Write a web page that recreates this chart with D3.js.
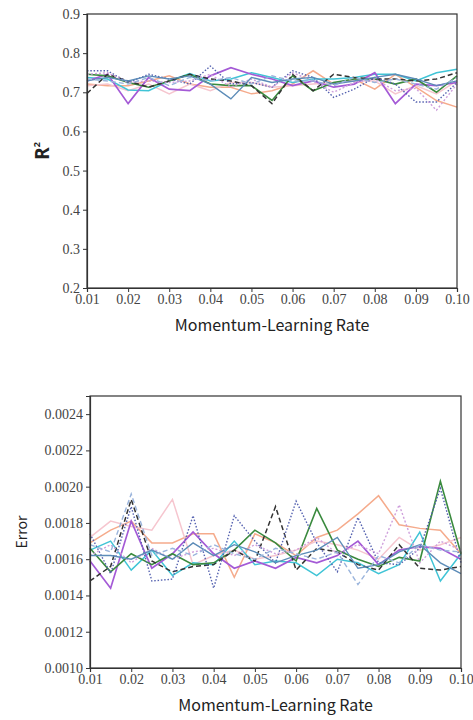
<!doctype html>
<html>
<head>
<meta charset="UTF-8">
<title>Momentum-Learning Rate</title>
<style>
	body { margin: 0; background: #fff; }
	.axis-title { font-family: "Noto Sans CJK SC", "Noto Sans", sans-serif; font-size: 16px; fill: #222; }
</style>
</head>
<body>
<script src="https://cdnjs.cloudflare.com/ajax/libs/d3/7.8.5/d3.min.js"></script>
<script>
	// x positions (momentum-learning rate)
	var rates = [0.01, 0.015, 0.02, 0.025, 0.03, 0.035, 0.04, 0.045, 0.05, 0.055,
		0.06, 0.065, 0.07, 0.075, 0.08, 0.085, 0.09, 0.095, 0.10];
	var xTicks = [0.01, 0.02, 0.03, 0.04, 0.05, 0.06, 0.07, 0.08, 0.09, 0.10];
	var r2Ticks = [0.2, 0.3, 0.4, 0.5, 0.6, 0.7, 0.8, 0.9];
	var errTicks = [0.0010, 0.0012, 0.0014, 0.0016, 0.0018, 0.0020, 0.0022, 0.0024];

	// R^2 series
	var r2Salmon = [0.721,0.717,0.717,0.729,0.742,0.721,0.713,0.713,0.696,0.704,0.721,0.755,0.721,0.734,0.708,0.746,0.713,0.679,0.662];
	var r2Pink = [0.717,0.721,0.704,0.721,0.696,0.721,0.704,0.725,0.725,0.713,0.717,0.721,0.725,0.729,0.729,0.696,0.717,0.696,0.729];
	var r2Cyan = [0.738,0.734,0.706,0.704,0.729,0.748,0.729,0.734,0.750,0.738,0.725,0.734,0.734,0.738,0.746,0.746,0.729,0.750,0.759];
	var r2Purple = [0.729,0.746,0.671,0.738,0.708,0.704,0.742,0.763,0.746,0.734,0.717,0.729,0.713,0.721,0.750,0.671,0.721,0.717,0.725];
	var r2Green = [0.746,0.742,0.725,0.713,0.729,0.746,0.721,0.717,0.717,0.679,0.742,0.704,0.725,0.734,0.734,0.721,0.734,0.700,0.742];
	var r2Black = [0.697,0.746,0.729,0.713,0.729,0.746,0.734,0.729,0.717,0.671,0.746,0.704,0.746,0.738,0.734,0.734,0.729,0.734,0.750];
	var r2BlueDot = [0.755,0.755,0.725,0.746,0.734,0.721,0.767,0.721,0.725,0.713,0.755,0.738,0.687,0.708,0.738,0.721,0.675,0.675,0.725];
	var r2LavDot = [0.746,0.750,0.725,0.729,0.725,0.729,0.746,0.713,0.734,0.713,0.750,0.729,0.700,0.725,0.734,0.704,0.710,0.654,0.721];
	var r2Steel = [0.729,0.738,0.729,0.742,0.734,0.742,0.721,0.683,0.738,0.725,0.734,0.738,0.721,0.729,0.738,0.746,0.734,0.717,0.729];
	var r2LightDash = [0.734,0.729,0.721,0.738,0.717,0.738,0.729,0.738,0.721,0.742,0.729,0.729,0.717,0.738,0.725,0.734,0.721,0.708,0.738];

	// Error series
	var errSalmon = [0.00169,0.00176,0.00181,0.00169,0.00169,0.00174,0.00174,0.00150,0.00174,0.00169,0.00162,0.00172,0.00176,0.00185,0.00195,0.00179,0.00177,0.00176,0.00163];
	var errPink = [0.00172,0.00181,0.00178,0.00176,0.00193,0.00157,0.00162,0.00165,0.00160,0.00162,0.00165,0.00170,0.00168,0.00165,0.00160,0.00172,0.00165,0.00168,0.00172];
	var errCyan = [0.00165,0.00170,0.00154,0.00165,0.00151,0.00158,0.00157,0.00170,0.00157,0.00159,0.00158,0.00151,0.00160,0.00158,0.00152,0.00157,0.00175,0.00148,0.00163];
	var errPurple = [0.00159,0.00144,0.00181,0.00155,0.00163,0.00175,0.00163,0.00155,0.00159,0.00155,0.00161,0.00158,0.00162,0.00170,0.00157,0.00165,0.00167,0.00166,0.00160];
	var errGreen = [0.00166,0.00153,0.00163,0.00157,0.00163,0.00157,0.00158,0.00165,0.00176,0.00169,0.00159,0.00188,0.00165,0.00160,0.00156,0.00161,0.00159,0.00203,0.00163];
	var errBlack = [0.00148,0.00156,0.00193,0.00159,0.00153,0.00156,0.00157,0.00165,0.00159,0.00189,0.00154,0.00166,0.00164,0.00157,0.00154,0.00168,0.00155,0.00154,0.00156];
	var errBlueDot = [0.00174,0.00152,0.00189,0.00148,0.00149,0.00184,0.00144,0.00184,0.00170,0.00158,0.00192,0.00169,0.00153,0.00183,0.00158,0.00157,0.00166,0.00199,0.00158];
	var errLavDot = [0.00162,0.00168,0.00158,0.00166,0.00160,0.00164,0.00166,0.00162,0.00168,0.00163,0.00165,0.00172,0.00163,0.00168,0.00163,0.00190,0.00158,0.00170,0.00165];
	var errSteel = [0.00162,0.00162,0.00160,0.00165,0.00160,0.00169,0.00162,0.00168,0.00164,0.00158,0.00162,0.00165,0.00172,0.00155,0.00157,0.00164,0.00168,0.00158,0.00152];
	var errLightDash = [0.00168,0.00164,0.00196,0.00162,0.00166,0.00162,0.00168,0.00163,0.00160,0.00166,0.00163,0.00160,0.00164,0.00146,0.00162,0.00158,0.00168,0.00165,0.00164];

	// line styles, same order for both charts
	var styles = [
		{ color: '#f5ab8c', dash: null, w: 1.5 },
		{ color: '#f6c6cf', dash: null, w: 1.5 },
		{ color: '#40c4d6', dash: null, w: 1.5 },
		{ color: '#a45ad6', dash: null, w: 1.7 },
		{ color: '#3a8a3e', dash: null, w: 1.6 },
		{ color: '#333333', dash: '5,3', w: 1.5 },
		{ color: '#5562b0', dash: '1.5,1.8', w: 1.4 },
		{ color: '#cfa0dc', dash: '2,2', w: 1.4 },
		{ color: '#5c8cb8', dash: null, w: 1.4 },
		{ color: '#9ab4dc', dash: '5,3', w: 1.4 }
	];

	var r2Series = [r2Salmon, r2Pink, r2Cyan, r2Purple, r2Green, r2Black, r2BlueDot, r2LavDot, r2Steel, r2LightDash];
	var errSeries = [errSalmon, errPink, errCyan, errPurple, errGreen, errBlack, errBlueDot, errLavDot, errSteel, errLightDash];

	var svg = d3.select('body').append('svg')
		.attr('width', 473)
		.attr('height', 720);

	function drawPanel(opt) {
		var x = d3.scaleLinear().domain([0.01, 0.10]).range([opt.left, opt.right]);
		var y = d3.scaleLinear().domain(opt.domain).range([opt.bottom, opt.top]);
		var g = svg.append('g');

		var line = d3.line()
			.x(function(d, i) { return x(rates[i]); })
			.y(function(d) { return y(d); });

		g.selectAll('path.series')
			.data(opt.series)
			.enter()
			.append('path')
			.attr('class', 'series')
			.attr('fill', 'none')
			.attr('stroke', function(d, i) { return styles[i].color; })
			.attr('stroke-width', function(d, i) { return styles[i].w; })
			.attr('stroke-dasharray', function(d, i) { return styles[i].dash; })
			.attr('d', line);

		// frame
		g.append('rect')
			.attr('x', opt.left).attr('y', opt.top)
			.attr('width', opt.right - opt.left)
			.attr('height', opt.bottom - opt.top)
			.attr('fill', 'none')
			.attr('stroke', '#333')
			.attr('stroke-width', 1.2);

		var xAxis = g.append('g')
			.attr('transform', 'translate(0,' + opt.bottom + ')')
			.call(d3.axisBottom(x).tickValues(xTicks).tickSize(4).tickPadding(2)
				.tickFormat(d3.format('.2f')));
		var yAxis = g.append('g')
			.attr('transform', 'translate(' + opt.left + ',0)')
			.call(d3.axisLeft(y).tickValues(opt.ticks).tickSize(4).tickPadding(3)
				.tickFormat(opt.fmt));
		[xAxis, yAxis].forEach(function(a) {
			a.select('.domain').attr('stroke', '#333').attr('stroke-width', 1.2);
			a.selectAll('.tick line').attr('stroke', '#333');
			a.selectAll('.tick text')
				.style('font-family', '"Liberation Serif", "DejaVu Serif", serif')
				.style('font-size', '14px')
				.attr('fill', '#444');
		});

		g.append('text')
			.attr('class', 'axis-title')
			.attr('x', (opt.left + opt.right) / 2)
			.attr('y', opt.bottom + 43)
			.attr('text-anchor', 'middle')
			.text('Momentum-Learning Rate');

		return g;
	}

	var r2Panel = drawPanel({
		left: 87, right: 457, top: 14, bottom: 288,
		domain: [0.2, 0.9], ticks: r2Ticks, fmt: d3.format('.1f'),
		series: r2Series
	});
	var ylab = r2Panel.append('text')
		.attr('transform', 'translate(49,151) rotate(-90)')
		.attr('text-anchor', 'middle')
		.style('font-family', '"Noto Sans", sans-serif')
		.style('font-weight', 'bold')
		.style('font-size', '19px')
		.attr('fill', '#222');
	ylab.append('tspan').text('R');
	ylab.append('tspan').attr('dy', -9).style('font-size', '9px').text('2');

	var errPanel = drawPanel({
		left: 90, right: 461, top: 396, bottom: 668,
		domain: [0.0010, 0.0025], ticks: errTicks, fmt: d3.format('.4f'),
		series: errSeries
	});
	errPanel.append('text')
		.attr('transform', 'translate(27,532) rotate(-90)')
		.attr('text-anchor', 'middle')
		.style('font-family', '"Noto Sans CJK SC", "Noto Sans", sans-serif')
		.style('font-size', '14px')
		.attr('fill', '#222')
		.text('Error');
</script>
</body>
</html>
